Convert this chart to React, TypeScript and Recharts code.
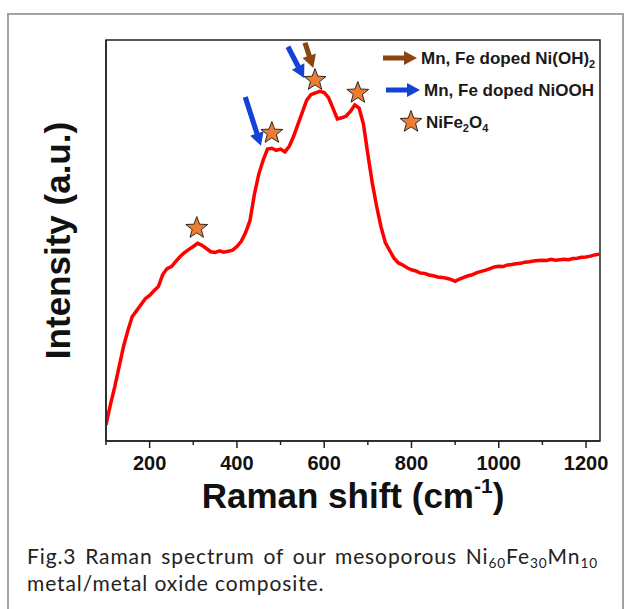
import React from "react"
import { ComposedChart, Line, XAxis, YAxis, ReferenceLine, ReferenceDot, ReferenceArea, Customized, Label } from "recharts"

// Raman spectrum (x in cm-1, intensity in arbitrary units 0..100)
const ramanShift = [
  100, 110, 120, 130, 140, 150, 160, 170, 180, 190,
  200, 210, 220, 230, 240, 250, 260, 270, 280, 290,
  300, 310, 320, 330, 340, 350, 360, 370, 380, 390,
  400, 410, 420, 430, 440, 450, 460, 470, 480, 490,
  500, 510, 520, 530, 540, 550, 560, 570, 580, 590,
  600, 610, 620, 630, 640, 650, 660, 670, 680, 690,
  700, 710, 720, 730, 740, 750, 760, 770, 780, 790,
  800, 810, 820, 830, 840, 850, 860, 870, 880, 890,
  900, 910, 920, 930, 940, 950, 960, 970, 980, 990,
  1000, 1010, 1020, 1030, 1040, 1050, 1060, 1070, 1080, 1090,
  1100, 1110, 1120, 1130, 1140, 1150, 1160, 1170, 1180, 1190,
  1200, 1210, 1220, 1230,
]
const intensity = [
  4.0, 9.0, 13.5, 18.5, 23.5, 27.5, 31.0, 32.5, 34.0, 35.5,
  36.3, 37.5, 38.5, 41.5, 43.0, 43.5, 44.8, 46.0, 47.0, 47.8,
  48.5, 49.3, 48.8, 48.0, 47.2, 47.0, 47.4, 47.1, 47.3, 47.6,
  48.5, 49.8, 52.0, 55.0, 61.5, 66.5, 70.0, 72.8, 73.0, 72.5,
  72.8, 72.1, 73.5, 76.0, 79.0, 82.0, 85.0, 86.4, 86.8, 87.2,
  86.9, 85.6, 83.0, 80.3, 80.6, 81.0, 82.2, 83.8, 83.0, 79.0,
  71.5, 64.5, 58.6, 53.5, 49.5, 47.5, 45.6, 44.4, 43.9, 43.2,
  42.7, 42.4, 41.9, 41.8, 41.4, 41.2, 40.9, 40.8, 40.6, 40.3,
  39.8, 40.4, 40.8, 41.2, 41.5, 42.0, 42.3, 42.6, 43.0, 43.4,
  43.6, 43.5, 43.9, 44.0, 44.2, 44.3, 44.6, 44.7, 44.9, 45.0,
  45.1, 45.0, 45.3, 45.1, 45.2, 45.3, 45.2, 45.5, 45.6, 45.8,
  45.9, 46.1, 46.4, 46.6,
]

// NiFe2O4 star markers
const starShift = [308, 480, 579, 677]
const starIntensity = [53.1, 76.8, 90.0, 86.8]

// annotation arrows (tail -> tip)
const arrowKind = ["niooh", "niooh", "nioh2"]
const arrowTailShift = [419, 517, 556]
const arrowTailIntensity = [85.8, 98.3, 99.3]
const arrowTipShift = [455, 554, 575]
const arrowTipIntensity = [73.6, 90.5, 93.0]

const xTicks = [100, 200, 300, 400, 500, 600, 700, 800, 900, 1000, 1100, 1200]
const majorTicks = [200, 400, 600, 800, 1000, 1200]

const legendKinds = ["nioh2", "niooh", "star"]
const legendLabels = ["Mn, Fe doped Ni(OH)_2", "Mn, Fe doped NiOOH", "NiFe_2O_4"]

const spectrum = ramanShift.map((x, i) => ({ x, y: intensity[i] }))

const colors: Record<string, string> = { nioh2: "#8b4513", niooh: "#1442d4" }
const FONT = "'Liberation Sans', Arial, sans-serif"
const XMAX = 1232

const starPoints = (cx: number, cy: number, R: number, r: number) => {
  const pts: string[] = []
  for (let i = 0; i < 10; i++) {
    const a = -Math.PI / 2 + (i * Math.PI) / 5
    const rad = i % 2 === 0 ? R : r
    pts.push(`${cx + rad * Math.cos(a)},${cy + rad * Math.sin(a)}`)
  }
  return pts.join(" ")
}

const Star = (props: any) => (
  <polygon points={starPoints(props.cx, props.cy, 11.5, 4.8)} fill="#ed7d31" stroke="#2a2a2a" strokeWidth={1} />
)

const arrowPath = (x1: number, y1: number, x2: number, y2: number) => {
  const dx = x2 - x1
  const dy = y2 - y1
  const len = Math.sqrt(dx * dx + dy * dy)
  const ux = dx / len
  const uy = dy / len
  const nx = -uy
  const ny = ux
  const head = 13
  const hw = 7
  const sw = 2.6
  const bx = x2 - ux * head
  const by = y2 - uy * head
  const p = [
    [x1 + nx * sw, y1 + ny * sw],
    [bx + nx * sw, by + ny * sw],
    [bx + nx * hw, by + ny * hw],
    [x2, y2],
    [bx - nx * hw, by - ny * hw],
    [bx - nx * sw, by - ny * sw],
    [x1 - nx * sw, y1 - ny * sw],
  ]
  return p.map((q) => q.join(",")).join(" ")
}

const makeArrow = (color: string) => (props: any) => (
  <polygon points={arrowPath(props.x1, props.y1, props.x2, props.y2)} fill={color} />
)

const XTick = (props: any) => {
  const { x, y, payload } = props
  const major = majorTicks.includes(payload.value)
  return (
    <g>
      <line x1={x} x2={x} y1={y} y2={y + (major ? 7 : 4)} stroke="#222" strokeWidth={1.5} />
      {major && (
        <text x={x} y={y + 29} textAnchor="middle" fontSize={20} fontWeight="bold" fontFamily={FONT} fill="#111">
          {payload.value}
        </text>
      )}
    </g>
  )
}

const XTitle = (props: any) => {
  const vb = props.viewBox
  return (
    <text x={vb.x + vb.width / 2} y={508} textAnchor="middle" fontSize={35} fontWeight="bold" fontFamily={FONT} fill="#111">
      Raman shift (cm
      <tspan dy={-15} fontSize={21}>-1</tspan>
      <tspan dy={15}>)</tspan>
    </text>
  )
}

const YTitle = (props: any) => {
  const vb = props.viewBox
  const cx = 70
  const cy = vb.y + vb.height / 2
  return (
    <text x={cx} y={cy} transform={`rotate(-90 ${cx} ${cy})`} textAnchor="middle" fontSize={35} fontWeight="bold" fontFamily={FONT} fill="#111">
      Intensity (a.u.)
    </text>
  )
}

// "Ni(OH)_2" -> tspans with subscript digits
const subTspans = (s: string) => {
  const parts = s.split(/_(\d)/)
  return parts.map((part, i) => {
    if (i % 2 === 1) {
      return (
        <tspan key={i} fontSize={11} dy={4}>
          {part}
        </tspan>
      )
    }
    return (
      <tspan key={i} dy={i > 0 ? -4 : 0}>
        {part}
      </tspan>
    )
  })
}

// legend block drawn in the chart's svg, top right of the plot
const LegendSvg = () => (
  <g fontFamily={FONT} fontWeight="bold" fontSize={17} fill="#1a1a1a">
    {legendKinds.map((k, i) => {
      const cy = 58 + i * 32
      return (
        <g key={k}>
          {k === "star" ? (
            <polygon points={starPoints(411, cy, 11.5, 4.8)} fill="#ed7d31" stroke="#2a2a2a" strokeWidth={1} />
          ) : (
            <polygon
              points={arrowPath(k === "niooh" ? 386 : 383, cy, k === "niooh" ? 420 : 417, cy)}
              fill={colors[k]}
            />
          )}
          <text x={k === "star" ? 426 : k === "niooh" ? 424 : 421} y={cy + 6}>
            {subTspans(legendLabels[i])}
          </text>
        </g>
      )
    })}
  </g>
)

const sub = { fontSize: "0.65em", verticalAlign: "-0.3em", lineHeight: 0 }

export default function App() {
  return (
    <div style={{ position: "absolute", left: 0, top: 0, width: 625, height: 609, overflow: "hidden", background: "#fff" }}>
      <div
        style={{
          position: "absolute",
          left: 7,
          top: 13,
          width: 617,
          height: 700,
          border: "2px solid #a3a3a3",
          boxSizing: "border-box",
        }}
      />
      <div style={{ position: "absolute", left: 0, top: 0 }}>
        <ComposedChart width={625} height={530} data={spectrum} margin={{ top: 40, right: 25, bottom: 29, left: 46 }}>
          <XAxis
            type="number"
            dataKey="x"
            domain={[100, XMAX]}
            ticks={xTicks}
            interval={0}
            height={60}
            tickSize={0}
            tickMargin={0}
            tickLine={false}
            tick={(p: any) => <XTick {...p} />}
            axisLine={{ stroke: "#222", strokeWidth: 1.5 }}
            allowDataOverflow
          >
            <Label content={XTitle} />
          </XAxis>
          <YAxis
            type="number"
            domain={[0, 100]}
            width={60}
            tick={false}
            tickLine={false}
            axisLine={{ stroke: "#222", strokeWidth: 1.5 }}
            allowDataOverflow
          >
            <Label content={YTitle} />
          </YAxis>
          <ReferenceArea
            x1={100}
            x2={XMAX}
            y1={0}
            y2={100}
            fill="none"
            fillOpacity={0}
            stroke="#222"
            strokeWidth={1.5}
            strokeOpacity={1}
            ifOverflow="visible"
          />
          <Line
            type="linear"
            dataKey="y"
            stroke="#ff0000"
            strokeWidth={3.5}
            dot={false}
            isAnimationActive={false}
          />
          {starShift.map((s, i) => (
            <ReferenceDot key={"s" + i} x={s} y={starIntensity[i]} r={11} shape={Star} ifOverflow="visible" />
          ))}
          {arrowKind.map((k, i) => (
            <ReferenceLine
              key={"a" + i}
              segment={[
                { x: arrowTailShift[i], y: arrowTailIntensity[i] },
                { x: arrowTipShift[i], y: arrowTipIntensity[i] },
              ]}
              shape={makeArrow(colors[k])}
              ifOverflow="visible"
            />
          ))}
          <Customized component={<LegendSvg />} />
        </ComposedChart>
      </div>
      <div
        style={{
          position: "absolute",
          left: 27,
          top: 542,
          width: 571,
          fontFamily: "Lato, 'Open Sans', sans-serif",
          fontSize: 21,
          letterSpacing: 0.9,
          lineHeight: "27px",
          color: "#222",
        }}
      >
        <div style={{ textAlign: "justify", textAlignLast: "justify" }}>
          Fig.3 Raman spectrum of our mesoporous Ni<span style={sub}>60</span>Fe<span style={sub}>30</span>Mn
          <span style={sub}>10</span>
        </div>
        <div>metal/metal oxide composite.</div>
      </div>
    </div>
  )
}
